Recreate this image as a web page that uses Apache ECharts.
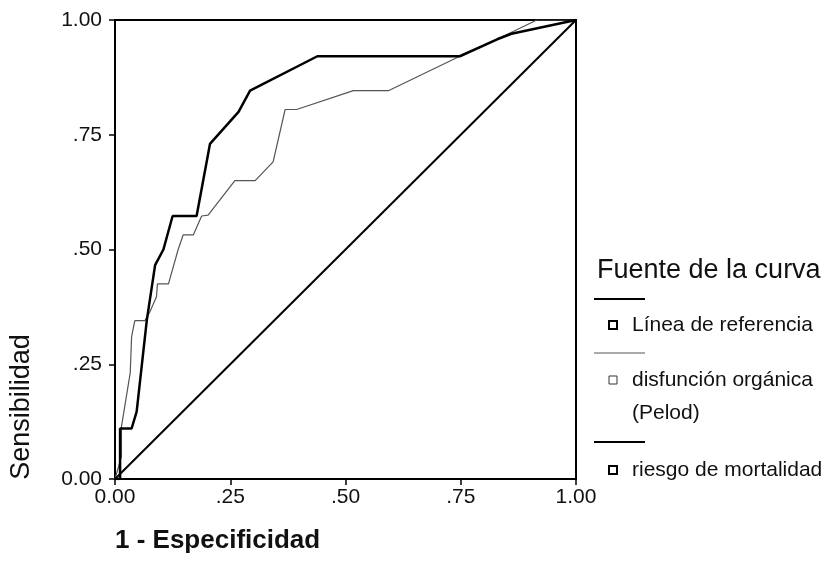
<!DOCTYPE html>
<html>
<head>
<meta charset="utf-8">
<script src="https://cdn.jsdelivr.net/npm/echarts@6/dist/echarts.min.js"></script>
<style>
  html, body { margin: 0; padding: 0; background: #fff; }
  #chart { width: 833px; height: 584px; }
</style>
</head>
<body>
<div id="chart"></div>
<script>
// ROC curves: [1 - especificidad, sensibilidad]
const referencia = [[0, 0], [1, 1]];

const pelod = [
  [0, 0], [0.014, 0.049], [0.014, 0.114], [0.033, 0.231], [0.036, 0.31],
  [0.043, 0.345], [0.065, 0.345], [0.076, 0.365], [0.09, 0.397], [0.092, 0.425],
  [0.116, 0.425], [0.137, 0.5], [0.148, 0.532], [0.17, 0.532], [0.188, 0.573],
  [0.202, 0.575], [0.26, 0.65], [0.304, 0.65], [0.343, 0.691], [0.369, 0.805],
  [0.394, 0.805], [0.517, 0.846], [0.593, 0.846], [0.748, 0.921], [0.829, 0.958],
  [0.915, 1], [1, 1]
];

const mortalidad = [
  [0, 0], [0.011, 0], [0.011, 0.11], [0.036, 0.11], [0.047, 0.147],
  [0.069, 0.346], [0.087, 0.466], [0.105, 0.5], [0.125, 0.573], [0.177, 0.573],
  [0.206, 0.73], [0.268, 0.8], [0.293, 0.846], [0.439, 0.921], [0.748, 0.921],
  [0.829, 0.958], [0.86, 0.97], [1, 1]
];

const tickValues = [0, 0.25, 0.5, 0.75, 1];
const tickLabels = ["0.00", ".25", ".50", ".75", "1.00"];

const legendNames = ["Línea de referencia", "disfunción orgánica\n(Pelod)", "riesgo de mortalidad"];

const fontFamily = "'Liberation Sans', Arial, sans-serif";
const textColor = "#111";

const labelFor = (value) => {
  const idx = tickValues.findIndex((v) => Math.abs(v - value) < 1e-6);
  return idx >= 0 ? tickLabels[idx] : "";
};

const axisCommon = {
  type: "value",
  min: 0,
  max: 1,
  interval: 0.25,
  axisLine: { show: true, lineStyle: { color: "#000", width: 2 } },
  axisTick: { show: true, length: 6, lineStyle: { color: "#000", width: 1.5 } },
  splitLine: { show: false },
  axisLabel: {
    color: textColor,
    fontFamily,
    fontSize: 21,
    formatter: labelFor,
  },
};

const chart = echarts.init(document.getElementById("chart"));

chart.setOption({
  animation: false,
  backgroundColor: "#fff",
  grid: {
    left: 115,
    top: 20,
    width: 461,
    height: 459,
    show: true,
    borderColor: "#000",
    borderWidth: 2,
  },
  xAxis: {
    ...axisCommon,
    axisLabel: { ...axisCommon.axisLabel, margin: 8 },
  },
  yAxis: {
    ...axisCommon,
    axisLabel: { ...axisCommon.axisLabel, margin: 13 },
  },
  series: [
    {
      name: "Línea de referencia",
      type: "line",
      data: referencia,
      showSymbol: false,
      lineStyle: { color: "#000", width: 2 },
      z: 3,
    },
    {
      name: "disfunción orgánica (Pelod)",
      type: "line",
      data: pelod,
      showSymbol: false,
      lineStyle: { color: "#555", width: 1.2 },
      z: 2,
    },
    {
      name: "riesgo de mortalidad",
      type: "line",
      data: mortalidad,
      showSymbol: false,
      lineStyle: { color: "#000", width: 2.5 },
      z: 4,
    },
  ],
  graphic: [
    // axis titles
    {
      type: "text",
      x: 115,
      y: 541,
      style: {
        text: "1 - Especificidad",
        font: `bold 26px ${fontFamily}`,
        fill: textColor,
        verticalAlign: "middle",
      },
    },
    {
      type: "text",
      x: 22,
      y: 407,
      rotation: Math.PI / 2,
      style: {
        text: "Sensibilidad",
        font: `27px ${fontFamily}`,
        fill: textColor,
        align: "center",
        verticalAlign: "middle",
      },
    },
    // legend
    {
      type: "text",
      x: 597,
      y: 271,
      style: {
        text: "Fuente de la curva",
        font: `27px ${fontFamily}`,
        fill: textColor,
        verticalAlign: "middle",
      },
    },
    { type: "line", shape: { x1: 594, y1: 299, x2: 645, y2: 299 }, style: { stroke: "#000", lineWidth: 2 } },
    { type: "rect", shape: { x: 609, y: 321, width: 8, height: 8 }, style: { fill: "#fff", stroke: "#000", lineWidth: 2 } },
    {
      type: "text",
      x: 632,
      y: 325,
      style: { text: legendNames[0], font: `21px ${fontFamily}`, fill: textColor, verticalAlign: "middle" },
    },
    { type: "line", shape: { x1: 594, y1: 353, x2: 645, y2: 353 }, style: { stroke: "#555", lineWidth: 1 } },
    { type: "rect", shape: { x: 609, y: 376, width: 8, height: 8 }, style: { fill: "#fff", stroke: "#333", lineWidth: 1 } },
    {
      type: "text",
      x: 632,
      y: 380,
      style: { text: legendNames[1], font: `21px ${fontFamily}`, fill: textColor, verticalAlign: "top", lineHeight: 33, padding: [-16, 0, 0, 0] },
    },
    { type: "line", shape: { x1: 594, y1: 442, x2: 645, y2: 442 }, style: { stroke: "#000", lineWidth: 2 } },
    { type: "rect", shape: { x: 609, y: 466, width: 8, height: 8 }, style: { fill: "#fff", stroke: "#000", lineWidth: 2 } },
    {
      type: "text",
      x: 632,
      y: 470,
      style: { text: legendNames[2], font: `21px ${fontFamily}`, fill: textColor, verticalAlign: "middle" },
    },
  ],
});
</script>
</body>
</html>
